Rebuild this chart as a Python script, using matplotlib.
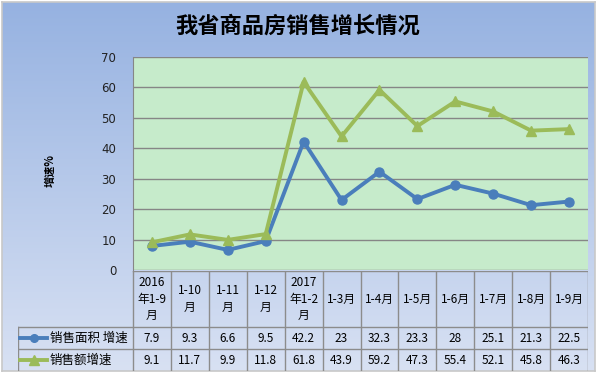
import numpy as np
import matplotlib
matplotlib.use('Agg')
from matplotlib import pyplot as plt

plt.rcParams['font.family'] = ['Noto Sans CJK SC', 'DejaVu Sans']

periods = ['2016\n年1-9\n月', '1-10\n月', '1-11\n月', '1-12\n月', '2017\n年1-2\n月',
           '1-3月', '1-4月', '1-5月', '1-6月', '1-7月', '1-8月', '1-9月']
area_growth = [7.9, 9.3, 6.6, 9.5, 42.2, 23, 32.3, 23.3, 28, 25.1, 21.3, 22.5]
sales_growth = [9.1, 11.7, 9.9, 11.8, 61.8, 43.9, 59.2, 47.3, 55.4, 52.1, 45.8, 46.3]
area_labels = ['7.9', '9.3', '6.6', '9.5', '42.2', '23', '32.3', '23.3', '28', '25.1', '21.3', '22.5']
sales_labels = ['9.1', '11.7', '9.9', '11.8', '61.8', '43.9', '59.2', '47.3', '55.4', '52.1', '45.8', '46.3']
series_names = ['销售面积 增速', '销售额增速']

W, H = 599, 374
fig = plt.figure(figsize=(W / 100, H / 100), dpi=100, facecolor='white')

def box(l, t, r, b):
    return [l / W, 1 - b / H, (r - l) / W, (b - t) / H]

# gradient background
bg = fig.add_axes(box(2, 2, 595, 371))
top = np.array([150, 178, 225]) / 255
bot = np.array([216, 225, 243]) / 255
grad = np.linspace(0, 1, 256)[:, None, None] * (bot - top) + top
bg.imshow(np.repeat(grad, 2, axis=1), aspect='auto', extent=[0, 1, 0, 1])
bg.set_xticks([])
bg.set_yticks([])
for s in bg.spines.values():
    s.set_color('#c8c8c8')
    s.set_linewidth(1.2)

blue = '#4a7ebb'
green = '#9bbb59'
grid_c = '#868686'

ax = fig.add_axes(box(133, 57, 588, 270))
ax.set_facecolor('#c6ebcb')
x = np.arange(len(periods))
ax.plot(x, area_growth, color=blue, lw=2.8, marker='o', ms=6.5, zorder=3)
ax.plot(x, sales_growth, color=green, lw=2.8, marker='^', ms=7.5, zorder=3)
ax.set_xlim(-0.5, 11.5)
ax.set_ylim(0, 70)
ax.set_yticks(range(0, 71, 10))
ax.yaxis.grid(True, color=grid_c, lw=1)
ax.set_axisbelow(True)
ax.set_xticks([])
ax.tick_params(axis='y', length=0, pad=12, labelsize=8.5, labelcolor='#222222')
for lab in ax.get_yticklabels():
    lab.set_fontfamily('DejaVu Sans')
for k in ['top', 'right', 'bottom']:
    ax.spines[k].set_visible(False)
ax.spines['left'].set_color(grid_c)

fig.text(298 / W, 1 - 26 / H, '我省商品房销售增长情况', ha='center', va='center',
         fontsize=16, fontweight='bold')
fig.text(50 / W, 1 - 170 / H, '增速%', ha='center', va='center', rotation=90,
         fontsize=8, fontweight='bold')

# data table
colw = (588 - 133) / 12
xl = -0.5 - (133 - 18) / colw
tb = fig.add_axes(box(18, 271, 588, 371))
tb.set_xlim(xl, 11.5)
tb.set_ylim(100, 0)
tb.axis('off')
lc = '#8c8c8c'
for k in range(13):
    tb.plot([k - 0.5, k - 0.5], [0, 100], color=lc, lw=1)
tb.plot([xl, xl], [56, 100], color=lc, lw=1)
tb.plot([-0.5, 11.5], [0, 0], color=lc, lw=1)
for yy in (56, 78):
    tb.plot([xl, 11.5], [yy, yy], color=lc, lw=1)

for i, p in enumerate(periods):
    tb.text(i, 28, p, ha='center', va='center', fontsize=8.5, linespacing=1.3)
    tb.text(i, 67, area_labels[i], ha='center', va='center', fontsize=8.5)
    tb.text(i, 89, sales_labels[i], ha='center', va='center', fontsize=8.5)

lx0 = -0.5 + (20 - 133) / colw
lx1 = -0.5 + (47 - 133) / colw
tx = -0.5 + (50 - 133) / colw
for yy, c, m, ms, name in [(67, blue, 'o', 5.5, series_names[0]), (89, green, '^', 6.5, series_names[1])]:
    tb.plot([lx0, lx1], [yy, yy], color=c, lw=2.8)
    tb.plot([(lx0 + lx1) / 2], [yy], color=c, marker=m, ms=ms)
    tb.text(tx, yy, name, ha='left', va='center', fontsize=9)

fig.savefig('out.png', dpi=100, facecolor='white')
